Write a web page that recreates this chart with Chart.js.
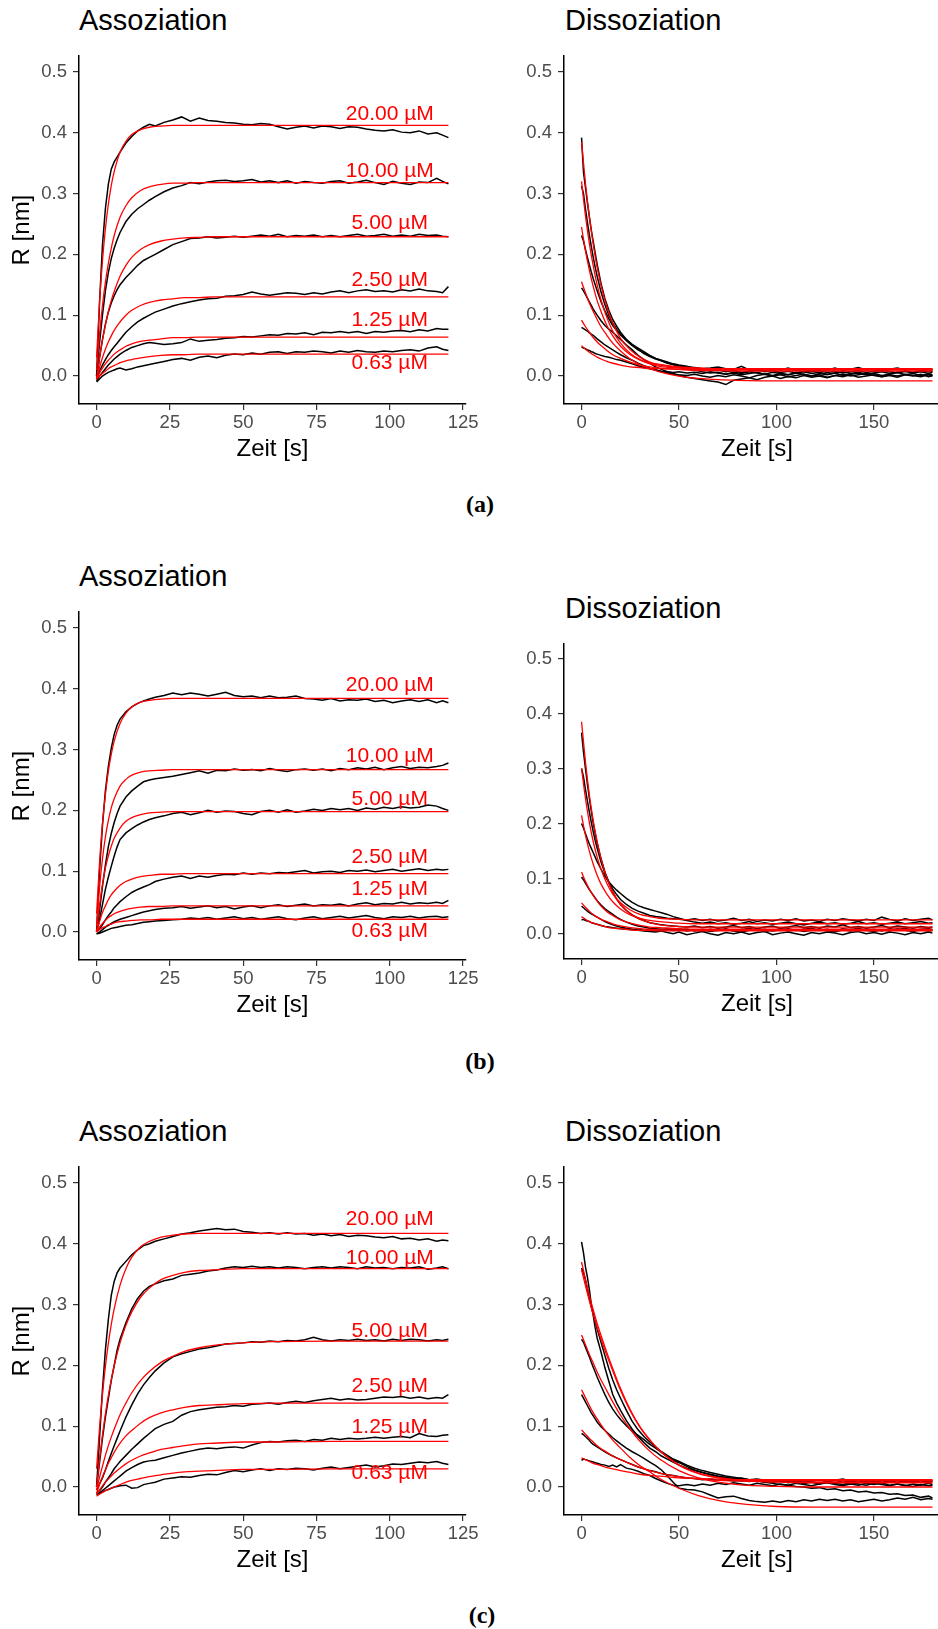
<!DOCTYPE html>
<html>
<head>
<meta charset="utf-8">
<script src="https://cdn.jsdelivr.net/npm/chart.js@4.4.1/dist/chart.umd.min.js"></script>
<style>
html, body { margin: 0; padding: 0; background: #fff; overflow: hidden; }
body { width: 938px; height: 1629px; position: relative; }
canvas { position: absolute; }
.ttl { position: absolute; font-family: "Liberation Sans", Arial, sans-serif; font-size: 29px; line-height: 29px; color: #000; white-space: nowrap; }
.cap { position: absolute; width: 80px; text-align: center; font-family: "Liberation Serif", "Times New Roman", serif; font-weight: bold; font-size: 24px; line-height: 24px; color: #000; }
</style>
</head>
<body>
<div class="ttl" style="left:79px;top:6px">Assoziation</div>
<div class="ttl" style="left:565px;top:6px">Dissoziation</div>
<div class="cap" style="left:440px;top:492px">(a)</div>
<div class="ttl" style="left:79px;top:562px">Assoziation</div>
<div class="ttl" style="left:565px;top:594px">Dissoziation</div>
<div class="cap" style="left:440px;top:1049px">(b)</div>
<div class="ttl" style="left:79px;top:1117px">Assoziation</div>
<div class="ttl" style="left:565px;top:1117px">Dissoziation</div>
<div class="cap" style="left:442px;top:1603px">(c)</div>
<script>
// Zeitachsen (s)
const assocTime = [0,1,2,3,4,5,6,7,8, 10,12,14,16,18,20,
  23,26,29,32,35,38,41,44,47,50,53,56,59,62,65,68,71,74,77,80,83,86,89,92,95,98,101,104,107,110,113,116, 118,120];
const dissTime = [0,1,2,3,4,5,6,7,8, 10,12,14,16,18,20, 23,26,29,32,35,38,41,44,47,50,
  54,58,62,66,70,74,78,82,86,90,94,98,102,106,110,114,118,122,126,130,134,138,142,146,150,154,158,162,166,170,174,178, 180];
const assocFitTime = [0,1,2,3,4,5,6,8,10,12,15,18,22,26,30,35,40,50,60,80,100,120];
const dissFitTime = [0,2,4,6,8,10,13,16,20,25,30,35,40,50,60,70,80,100,120,150,180];

const concLabels = ['20.00 µM', '10.00 µM', '5.00 µM', '2.50 µM', '1.25 µM', '0.63 µM'];
const labelX = 100;
const labelY_a = [0.430, 0.337, 0.251, 0.157, 0.0925, 0.021];
const labelY_b = [0.405, 0.289, 0.219, 0.123, 0.071, 0.001];
const labelY_c = [0.441, 0.377, 0.257, 0.165, 0.098, 0.022];

const yTicks = [0, 0.1, 0.2, 0.3, 0.4, 0.5];
const assocXTicks = [0, 25, 50, 75, 100, 125];
const dissXTicks = [0, 50, 100, 150];

// (a) Messkurven Assoziation: 20, 10, 5, 2.5, 1.25, 0.63 µM
const assocRaw_a = [
  [0.000,0.120,0.215,0.275,0.315,0.340,0.352,0.360,0.368, 0.383,0.394,0.403,0.409,0.414,0.411,
   0.417,0.421,0.426,0.419,0.424,0.420,0.419,0.417, 0.416,0.414,0.413,0.415,0.414,0.410,0.406,0.409,
   0.411,0.408,0.411,0.410,0.407,0.410,0.409,0.406, 0.404,0.403,0.405,0.401,0.400,0.403,0.398,0.400, 0.396,0.392],
  [0.000,0.055,0.100,0.140,0.170,0.193,0.210,0.224,0.236, 0.254,0.266,0.275,0.282,0.289,0.295,
   0.303,0.309,0.313,0.318,0.316,0.319,0.321,0.322, 0.320,0.321,0.323,0.319,0.321,0.318,0.321,0.317,
   0.320,0.318,0.317,0.320,0.321,0.317,0.319,0.322, 0.318,0.315,0.320,0.317,0.315,0.319,0.318,0.325, 0.320,0.316],
  [-0.005,0.030,0.060,0.085,0.105,0.120,0.132,0.142,0.150, 0.162,0.172,0.182,0.190,0.195,0.200,
   0.208,0.216,0.221,0.226,0.227,0.229,0.227,0.228, 0.230,0.228,0.230,0.232,0.230,0.233,0.229,0.231,
   0.230,0.232,0.229,0.231,0.229,0.231,0.233,0.230, 0.231,0.233,0.230,0.232,0.230,0.233,0.231,0.232, 0.230,0.229],
  [-0.005,0.008,0.018,0.027,0.035,0.042,0.048,0.054,0.060, 0.072,0.081,0.089,0.095,0.100,0.105,
   0.110,0.115,0.119,0.122,0.125,0.127,0.128,0.131, 0.132,0.134,0.138,0.135,0.133,0.135,0.137,0.136,
   0.134,0.137,0.135,0.138,0.140,0.137,0.140,0.142, 0.139,0.140,0.138,0.142,0.140,0.143,0.140,0.139, 0.137,0.147],
  [-0.008,0.000,0.006,0.012,0.018,0.023,0.028,0.032,0.036, 0.042,0.047,0.050,0.053,0.055,0.054,
   0.052,0.053,0.055,0.061,0.057,0.059,0.060,0.062, 0.063,0.065,0.064,0.066,0.068,0.067,0.070,0.069,
   0.071,0.068,0.072,0.071,0.073,0.071,0.073,0.070, 0.073,0.072,0.074,0.075,0.073,0.076,0.074,0.078, 0.077,0.077],
  [-0.010,-0.005,0.000,0.003,0.006,0.008,0.010,0.012,0.013, 0.010,0.012,0.015,0.017,0.019,0.021,
   0.024,0.027,0.029,0.026,0.031,0.033,0.030,0.034, 0.036,0.035,0.038,0.036,0.039,0.040,0.037,0.040,
   0.039,0.041,0.040,0.038,0.041,0.039,0.042,0.040, 0.039,0.041,0.040,0.042,0.043,0.041,0.046,0.048, 0.044,0.042]
];
const assocFit_a = [
  [0.030,0.121,0.189,0.242,0.282,0.313,0.336,0.368,0.386,0.397,0.405,0.409,0.411,0.412,0.412,0.412,0.412,0.412,0.412,0.412,0.412,0.412],
  [0.010,0.068,0.116,0.154,0.185,0.210,0.231,0.261,0.280,0.293,0.305,0.311,0.315,0.317,0.317,0.318,0.318,0.318,0.318,0.318,0.318,0.318],
  [-0.005,0.030,0.059,0.084,0.106,0.124,0.139,0.164,0.182,0.195,0.208,0.216,0.222,0.225,0.227,0.228,0.229,0.229,0.229,0.229,0.229,0.229],
  [-0.005,0.014,0.030,0.044,0.056,0.066,0.075,0.089,0.100,0.108,0.116,0.121,0.125,0.127,0.129,0.129,0.130,0.130,0.130,0.130,0.130,0.130],
  [-0.005,0.005,0.013,0.020,0.026,0.031,0.036,0.043,0.049,0.053,0.057,0.059,0.061,0.063,0.063,0.064,0.064,0.064,0.064,0.064,0.064,0.064],
  [-0.005,0.000,0.004,0.008,0.012,0.015,0.017,0.022,0.025,0.027,0.030,0.032,0.034,0.035,0.035,0.036,0.036,0.036,0.036,0.036,0.036,0.036]
];
const dissRaw_a = [
  [0.392,0.335,0.310,0.285,0.262,0.240,0.221,0.202,0.184, 0.152,0.127,0.108,0.093,0.082,0.072,
   0.060,0.051,0.044,0.037,0.032,0.028,0.025,0.021,0.019,0.017,
   0.015,0.014,0.012,0.013,0.015,0.012,0.011,0.016, 0.010,0.012,0.009,0.012,0.010,0.013,0.009,0.011,
   0.008,0.012,0.010,0.013,0.009,0.011,0.014,0.010, 0.012,0.009,0.011,0.013,0.010,0.012,0.009,0.011, 0.010],
  [0.312,0.300,0.275,0.253,0.232,0.213,0.195,0.179,0.164, 0.138,0.117,0.100,0.087,0.077,0.068,
   0.058,0.050,0.043,0.038,0.033,0.029,0.026,0.023,0.020,0.018,
   0.016,0.013,0.011,0.009,0.010,0.007,0.009,0.006, 0.008,0.010,0.007,0.009,0.006,0.008,0.005,0.008,
   0.007,0.009,0.006,0.008,0.005,0.007,0.009,0.006, 0.008,0.010,0.007,0.005,0.008,0.006,0.009,0.007, 0.008],
  [0.231,0.222,0.208,0.195,0.183,0.171,0.160,0.150,0.140, 0.122,0.107,0.094,0.083,0.075,0.068,
   0.060,0.052,0.046,0.040,0.034,0.029,0.025,0.022,0.019,0.016,
   0.012,0.010,0.007,0.005,0.006,0.003,0.005,0.002, 0.004,0.006,0.003,0.001,0.004,0.002,0.005,0.003,
   0.000,0.004,0.002,0.005,0.001,0.003,0.005,0.002, 0.004,0.001,0.003,0.006,0.002,0.004,0.001,0.003, 0.002],
  [0.145,0.140,0.134,0.128,0.122,0.116,0.110,0.105,0.100, 0.091,0.083,0.077,0.072,0.066,0.060,
   0.051,0.043,0.034,0.027,0.021,0.015,0.011,0.007,0.004,0.001,
   -0.002,-0.004,-0.006,-0.008,-0.010,-0.014,-0.007,-0.005, -0.003,-0.006,-0.002,0.000,-0.004,-0.001,-0.003,0.001,
   -0.002,0.000,-0.003,0.001,-0.001,0.002,-0.002,0.000, 0.002,-0.001,0.001,-0.002,0.002,0.000,0.003,-0.001, 0.001],
  [0.080,0.078,0.076,0.074,0.071,0.069,0.067,0.064,0.061, 0.056,0.051,0.047,0.043,0.039,0.035,
   0.030,0.026,0.021,0.017,0.013,0.010,0.007,0.005,0.003,0.002,
   0.001,0.003,0.000,-0.002,0.001,-0.001,0.002,0.000, -0.003,0.001,0.003,0.000,0.002,-0.001,0.001,0.003,
   0.000,0.002,-0.002,0.001,0.003,0.000,0.002,0.004, 0.001,-0.001,0.002,0.000,0.003,0.001,-0.001,0.002, 0.000],
  [0.048,0.046,0.045,0.043,0.042,0.040,0.039,0.037,0.036, 0.034,0.032,0.031,0.029,0.027,0.026,
   0.023,0.020,0.017,0.014,0.012,0.010,0.008,0.007,0.006,0.007,
   0.005,0.006,0.004,0.007,0.005,0.003,0.006,0.004, 0.007,0.005,0.003,0.006,0.004,0.002,0.005,0.007,
   0.004,0.006,0.003,0.005,0.007,0.004,0.006,0.003, 0.005,0.007,0.004,0.006,0.008,0.005,0.007,0.004, 0.006]
];
const dissFit_a = [
  [0.385,0.317,0.262,0.217,0.179,0.149,0.114,0.087,0.062,0.043,0.031,0.023,0.019,0.015,0.013,0.012,0.012,0.012,0.012,0.012,0.012],
  [0.320,0.264,0.218,0.181,0.150,0.125,0.096,0.074,0.054,0.037,0.027,0.021,0.018,0.014,0.013,0.012,0.012,0.012,0.012,0.012,0.012],
  [0.245,0.206,0.174,0.147,0.124,0.106,0.083,0.066,0.049,0.035,0.026,0.020,0.016,0.013,0.011,0.010,0.010,0.010,0.010,0.010,0.010],
  [0.155,0.137,0.120,0.106,0.093,0.081,0.067,0.054,0.041,0.028,0.019,0.012,0.007,0.000,-0.004,-0.006,-0.007,-0.008,-0.008,-0.008,-0.008],
  [0.092,0.081,0.072,0.063,0.056,0.050,0.042,0.035,0.029,0.023,0.018,0.015,0.013,0.011,0.009,0.009,0.008,0.008,0.008,0.008,0.008],
  [0.050,0.044,0.039,0.035,0.031,0.028,0.024,0.021,0.018,0.015,0.014,0.012,0.012,0.011,0.010,0.010,0.010,0.010,0.010,0.010,0.010]
];

// (b)
const assocRaw_b = [
  [0.000,0.100,0.175,0.232,0.272,0.302,0.325,0.340,0.350, 0.362,0.370,0.376,0.380,0.383,0.386,
   0.389,0.393,0.390,0.393,0.391,0.388,0.391,0.394, 0.389,0.387,0.388,0.385,0.388,0.385,0.386,0.388,
   0.384,0.383,0.381,0.384,0.380,0.382,0.381,0.383, 0.379,0.381,0.377,0.380,0.382,0.379,0.382,0.377, 0.380,0.377],
  [0.000,0.035,0.075,0.110,0.140,0.162,0.180,0.195,0.207, 0.222,0.232,0.240,0.247,0.250,0.252,
   0.254,0.256,0.259,0.262,0.265,0.261,0.266,0.265, 0.268,0.266,0.267,0.265,0.269,0.266,0.264,0.267,
   0.268,0.266,0.268,0.265,0.269,0.267,0.270,0.268, 0.271,0.267,0.270,0.272,0.269,0.271,0.270,0.272, 0.274,0.278],
  [0.000,0.020,0.045,0.070,0.090,0.108,0.125,0.140,0.152, 0.163,0.170,0.176,0.181,0.185,0.188,
   0.191,0.195,0.197,0.193,0.196,0.200,0.197,0.199, 0.198,0.195,0.193,0.198,0.200,0.197,0.201,0.197,
   0.199,0.202,0.200,0.203,0.201,0.203,0.200,0.204, 0.202,0.205,0.203,0.206,0.204,0.205,0.209,0.207, 0.203,0.200],
  [0.000,0.005,0.012,0.020,0.027,0.033,0.040,0.045,0.050, 0.058,0.065,0.070,0.074,0.078,0.083,
   0.087,0.090,0.092,0.088,0.092,0.090,0.093,0.095, 0.094,0.097,0.095,0.097,0.096,0.098,0.097,0.099,
   0.101,0.097,0.099,0.100,0.098,0.101,0.100,0.102, 0.099,0.101,0.103,0.100,0.102,0.104,0.101,0.103, 0.102,0.103],
  [-0.003,0.000,0.004,0.008,0.011,0.014,0.017,0.019,0.021, 0.024,0.027,0.030,0.033,0.035,0.037,
   0.039,0.040,0.042,0.039,0.041,0.043,0.040,0.042, 0.038,0.041,0.043,0.040,0.043,0.045,0.042,0.044,
   0.046,0.043,0.045,0.044,0.046,0.043,0.046,0.048, 0.045,0.047,0.046,0.049,0.046,0.048,0.047,0.049, 0.047,0.052],
  [-0.003,-0.002,0.000,0.002,0.004,0.006,0.007,0.008,0.009, 0.011,0.012,0.014,0.016,0.017,0.018,
   0.019,0.020,0.021,0.023,0.022,0.024,0.021,0.023, 0.025,0.022,0.024,0.021,0.023,0.025,0.022,0.020,
   0.023,0.025,0.022,0.024,0.026,0.023,0.025,0.027, 0.024,0.022,0.025,0.024,0.026,0.023,0.025,0.026, 0.024,0.025]
];
const assocFit_b = [
  [0.030,0.114,0.178,0.226,0.264,0.292,0.314,0.343,0.360,0.370,0.378,0.381,0.383,0.384,0.384,0.384,0.384,0.384,0.384,0.384,0.384,0.384],
  [0.010,0.073,0.120,0.156,0.183,0.204,0.219,0.240,0.251,0.258,0.263,0.265,0.266,0.267,0.267,0.267,0.267,0.267,0.267,0.267,0.267,0.267],
  [0.000,0.044,0.078,0.105,0.125,0.141,0.154,0.171,0.182,0.188,0.193,0.196,0.197,0.198,0.198,0.198,0.198,0.198,0.198,0.198,0.198,0.198],
  [0.000,0.017,0.032,0.043,0.053,0.061,0.067,0.077,0.083,0.087,0.091,0.093,0.095,0.095,0.096,0.096,0.096,0.096,0.096,0.096,0.096,0.096],
  [0.000,0.008,0.014,0.019,0.024,0.027,0.030,0.034,0.037,0.039,0.041,0.042,0.042,0.043,0.043,0.043,0.043,0.043,0.043,0.043,0.043,0.043],
  [0.000,0.004,0.007,0.009,0.012,0.013,0.015,0.017,0.018,0.019,0.020,0.020,0.021,0.021,0.021,0.021,0.021,0.021,0.021,0.021,0.021,0.021]
];
const dissRaw_b = [
  [0.365,0.330,0.300,0.272,0.246,0.222,0.201,0.182,0.165, 0.136,0.112,0.092,0.076,0.063,0.053,
   0.042,0.034,0.028,0.024,0.020,0.018,0.016,0.015,0.014,0.013,
   0.012,0.014,0.011,0.013,0.010,0.012,0.015,0.011, 0.013,0.009,0.012,0.014,0.010,0.012,0.015,0.011,
   0.013,0.010,0.014,0.012,0.016,0.011,0.013,0.010, 0.012,0.015,0.011,0.014,0.012,0.010,0.013,0.011, 0.012],
  [0.300,0.285,0.262,0.241,0.221,0.202,0.185,0.169,0.155, 0.130,0.110,0.094,0.081,0.071,0.062,
   0.053,0.046,0.041,0.037,0.033,0.031,0.030,0.028,0.027,0.026,
   0.025,0.027,0.024,0.026,0.023,0.025,0.028,0.024, 0.026,0.022,0.025,0.023,0.026,0.024,0.027,0.023,
   0.025,0.022,0.026,0.024,0.027,0.025,0.023,0.026, 0.024,0.030,0.026,0.023,0.027,0.024,0.026,0.028, 0.025],
  [0.200,0.192,0.182,0.172,0.163,0.155,0.147,0.139,0.131, 0.117,0.104,0.094,0.086,0.079,0.073,
   0.064,0.057,0.051,0.047,0.044,0.041,0.038,0.035,0.031,0.028,
   0.024,0.021,0.019,0.021,0.018,0.020,0.017,0.019, 0.022,0.018,0.020,0.017,0.019,0.021,0.018,0.016,
   0.019,0.021,0.018,0.020,0.017,0.019,0.022,0.018, 0.020,0.017,0.019,0.021,0.018,0.020,0.022,0.019, 0.020],
  [0.103,0.098,0.092,0.086,0.080,0.075,0.070,0.065,0.060, 0.052,0.045,0.040,0.035,0.030,0.026,
   0.021,0.017,0.014,0.012,0.010,0.009,0.008,0.007,0.009,0.006,
   0.008,0.005,0.007,0.004,0.006,0.008,0.005,0.003, 0.006,0.008,0.004,0.006,0.009,0.005,0.007,0.004,
   0.006,0.008,0.005,0.003,0.007,0.005,0.008,0.006, 0.004,0.007,0.005,0.009,0.006,0.004,0.007,0.005, 0.006],
  [0.050,0.047,0.044,0.041,0.038,0.036,0.034,0.032,0.030, 0.026,0.022,0.019,0.016,0.014,0.012,
   0.010,0.008,0.006,0.005,0.004,0.003,0.005,0.002,0.000,0.003,
   -0.002,0.001,0.004,0.000,-0.003,0.002,0.000,0.003, -0.001,0.002,0.004,-0.002,0.001,0.003,0.000,-0.003,
   0.002,0.000,0.003,0.001,-0.002,0.002,0.004,0.000, 0.002,-0.001,0.003,0.001,-0.002,0.002,0.000,0.003, 0.001],
  [0.025,0.026,0.024,0.023,0.022,0.020,0.019,0.018,0.017, 0.015,0.013,0.012,0.011,0.010,0.009,
   0.008,0.007,0.009,0.006,0.008,0.005,0.007,0.009,0.006,0.008,
   0.005,0.007,0.004,0.008,0.006,0.009,0.005,0.007, 0.010,0.006,0.008,0.005,0.007,0.009,0.006,0.008,
   0.010,0.006,0.008,0.005,0.009,0.007,0.010,0.006, 0.008,0.005,0.009,0.007,0.010,0.006,0.008,0.009, 0.007]
];
const dissFit_b = [
  [0.385,0.312,0.252,0.205,0.167,0.136,0.101,0.076,0.053,0.036,0.026,0.020,0.016,0.013,0.012,0.012,0.012,0.012,0.012,0.012,0.012],
  [0.300,0.246,0.202,0.167,0.139,0.117,0.091,0.072,0.056,0.043,0.035,0.031,0.028,0.026,0.025,0.025,0.025,0.025,0.025,0.025,0.025],
  [0.215,0.179,0.150,0.126,0.106,0.090,0.072,0.058,0.045,0.034,0.028,0.024,0.022,0.019,0.018,0.018,0.018,0.018,0.018,0.018,0.018],
  [0.112,0.095,0.081,0.069,0.059,0.050,0.040,0.033,0.025,0.019,0.015,0.012,0.011,0.009,0.008,0.008,0.008,0.008,0.008,0.008,0.008],
  [0.056,0.048,0.041,0.035,0.030,0.026,0.022,0.018,0.014,0.011,0.009,0.008,0.007,0.007,0.006,0.006,0.006,0.006,0.006,0.006,0.006],
  [0.031,0.026,0.022,0.019,0.017,0.015,0.012,0.010,0.009,0.007,0.006,0.006,0.005,0.005,0.005,0.005,0.005,0.005,0.005,0.005,0.005]
];

// (c)
const assocRaw_c = [
  [0.000,0.080,0.160,0.225,0.275,0.315,0.338,0.352,0.360, 0.371,0.382,0.390,0.397,0.400,0.404,
   0.408,0.412,0.416,0.418,0.421,0.423,0.425,0.423, 0.424,0.420,0.419,0.417,0.418,0.416,0.418,0.416,
   0.417,0.414,0.416,0.413,0.415,0.412,0.414,0.413, 0.411,0.410,0.412,0.408,0.409,0.406,0.408,0.404, 0.406,0.405],
  [0.000,0.040,0.080,0.115,0.145,0.175,0.200,0.225,0.243, 0.270,0.293,0.310,0.322,0.330,0.334,
   0.339,0.342,0.348,0.350,0.352,0.355,0.357,0.360, 0.362,0.361,0.363,0.361,0.362,0.360,0.362,0.361,
   0.359,0.361,0.362,0.360,0.362,0.361,0.359,0.362, 0.360,0.361,0.359,0.361,0.360,0.362,0.358,0.360, 0.362,0.359],
  [-0.005,0.005,0.015,0.028,0.042,0.055,0.068,0.080,0.092, 0.115,0.135,0.153,0.168,0.180,0.191,
   0.204,0.214,0.219,0.223,0.227,0.229,0.232,0.235, 0.236,0.237,0.239,0.238,0.240,0.239,0.241,0.240,
   0.242,0.246,0.242,0.240,0.242,0.241,0.243,0.241, 0.242,0.240,0.243,0.241,0.243,0.242,0.240,0.242, 0.241,0.243],
  [-0.010,-0.006,0.000,0.008,0.015,0.022,0.030,0.036,0.042, 0.052,0.062,0.071,0.080,0.088,0.096,
   0.103,0.108,0.118,0.124,0.127,0.129,0.131,0.132, 0.134,0.133,0.136,0.137,0.138,0.136,0.139,0.141,
   0.139,0.142,0.144,0.146,0.143,0.145,0.143,0.144, 0.146,0.148,0.147,0.149,0.146,0.148,0.145,0.147, 0.146,0.152],
  [-0.012,-0.010,-0.006,-0.002,0.002,0.006,0.010,0.014,0.018, 0.026,0.032,0.037,0.041,0.043,0.044,
   0.048,0.052,0.056,0.059,0.062,0.064,0.063,0.065, 0.066,0.064,0.069,0.073,0.075,0.074,0.076,0.077,
   0.075,0.078,0.077,0.080,0.078,0.080,0.079,0.080, 0.082,0.080,0.082,0.083,0.081,0.088,0.084,0.083, 0.085,0.086],
  [-0.012,-0.010,-0.008,-0.006,-0.004,-0.002,0.000,0.001,0.002, 0.003,-0.002,-0.001,0.004,0.006,0.008,
   0.013,0.015,0.017,0.016,0.019,0.021,0.020,0.024, 0.027,0.025,0.028,0.030,0.027,0.030,0.029,0.031,
   0.030,0.028,0.031,0.033,0.030,0.032,0.034,0.036, 0.033,0.035,0.038,0.037,0.039,0.041,0.040,0.042, 0.039,0.037]
];
const assocFit_c = [
  [0.030,0.097,0.152,0.198,0.236,0.267,0.293,0.332,0.359,0.378,0.395,0.404,0.411,0.414,0.416,0.417,0.417,0.417,0.417,0.417,0.417,0.417],
  [0.000,0.045,0.085,0.120,0.150,0.176,0.199,0.237,0.266,0.288,0.312,0.327,0.341,0.348,0.353,0.356,0.357,0.359,0.359,0.359,0.359,0.359],
  [-0.005,0.016,0.034,0.052,0.068,0.082,0.095,0.119,0.138,0.155,0.175,0.190,0.205,0.215,0.223,0.229,0.233,0.237,0.239,0.240,0.240,0.240],
  [-0.010,0.004,0.017,0.028,0.039,0.048,0.057,0.072,0.084,0.093,0.105,0.114,0.122,0.127,0.131,0.134,0.135,0.137,0.138,0.138,0.138,0.138],
  [-0.012,-0.005,0.002,0.008,0.013,0.018,0.023,0.031,0.038,0.044,0.051,0.056,0.062,0.065,0.068,0.071,0.072,0.074,0.074,0.075,0.075,0.075],
  [-0.015,-0.012,-0.009,-0.006,-0.004,-0.002,0.000,0.004,0.008,0.011,0.014,0.017,0.020,0.023,0.025,0.026,0.027,0.029,0.029,0.030,0.030,0.030]
];
const dissRaw_c = [
  [0.403,0.385,0.362,0.345,0.325,0.300,0.282,0.262,0.245, 0.222,0.196,0.174,0.152,0.138,0.126,
   0.109,0.095,0.083,0.073,0.064,0.058,0.051,0.046,0.041,0.036,
   0.031,0.027,0.024,0.021,0.018,0.016,0.014,0.015, 0.012,0.013,0.011,0.012,0.010,0.012,0.009,0.011,
   0.010,0.012,0.009,0.011,0.013,0.010,0.008,0.011, 0.009,0.012,0.010,0.008,0.011,0.009,0.012,0.010, 0.011],
  [0.360,0.352,0.340,0.325,0.311,0.297,0.285,0.272,0.260, 0.238,0.216,0.195,0.176,0.160,0.146,
   0.126,0.108,0.094,0.083,0.074,0.066,0.058,0.052,0.046,0.042,
   0.036,0.031,0.027,0.024,0.021,0.018,0.016,0.014, 0.012,0.010,0.008,0.006,0.004,0.003,0.001,0.000,
   -0.002,-0.001,-0.004,-0.003,-0.006,-0.005,-0.008,-0.007, -0.010,-0.009,-0.012,-0.011,-0.014,-0.013,-0.017,-0.015, -0.018],
  [0.243,0.238,0.230,0.222,0.214,0.205,0.197,0.189,0.181, 0.166,0.152,0.139,0.128,0.119,0.111,
   0.101,0.092,0.085,0.078,0.070,0.064,0.057,0.050,0.044,0.040,
   0.034,0.028,0.024,0.020,0.017,0.015,0.012,0.010, 0.012,0.009,0.011,0.008,0.010,0.007,0.009,0.006,
   0.008,0.005,0.008,0.006,0.004,0.007,0.005,0.003, 0.006,0.004,0.002,0.005,0.003,0.001,0.004,0.002, 0.003],
  [0.152,0.146,0.140,0.134,0.128,0.122,0.117,0.112,0.107, 0.099,0.093,0.087,0.081,0.076,0.071,
   0.064,0.058,0.053,0.047,0.041,0.035,0.028,0.018,0.008,-0.002,
   -0.004,-0.005,-0.008,-0.013,-0.018,-0.016,-0.015,-0.019, -0.022,-0.024,-0.025,-0.023,-0.025,-0.022,-0.024,-0.021,
   -0.023,-0.020,-0.022,-0.020,-0.023,-0.021,-0.024,-0.022, -0.020,-0.023,-0.021,-0.018,-0.020,-0.017,-0.021,-0.019, -0.020],
  [0.088,0.086,0.083,0.080,0.077,0.073,0.070,0.068,0.066, 0.062,0.058,0.054,0.051,0.048,0.045,
   0.041,0.037,0.033,0.030,0.027,0.025,0.022,0.020,0.019,0.017,
   0.015,0.014,0.012,0.013,0.011,0.012,0.010,0.011, 0.009,0.011,0.008,0.010,0.012,0.009,0.011,0.008,
   0.010,0.012,0.009,0.011,0.008,0.010,0.012,0.009, 0.011,0.008,0.010,0.012,0.009,0.011,0.008,0.010, 0.009],
  [0.044,0.046,0.045,0.044,0.043,0.042,0.041,0.040,0.039, 0.037,0.036,0.034,0.036,0.033,0.037,
   0.031,0.029,0.026,0.022,0.019,0.014,0.010,0.006,0.003,0.002,
   0.004,0.002,0.005,0.003,0.006,0.004,0.007,0.005, 0.003,0.006,0.004,0.002,0.005,0.003,0.006,0.004,
   0.002,0.005,0.007,0.004,0.002,0.005,0.003,0.006, 0.004,0.007,0.003,0.005,0.002,0.005,0.003,0.006, 0.004]
];
const dissFit_c = [
  [0.370,0.342,0.315,0.291,0.269,0.249,0.221,0.195,0.162,0.127,0.099,0.078,0.060,0.036,0.022,0.015,0.011,0.008,0.007,0.007,0.007],
  [0.357,0.331,0.306,0.283,0.262,0.243,0.216,0.191,0.159,0.125,0.098,0.077,0.060,0.036,0.023,0.016,0.012,0.010,0.010,0.010,0.010],
  [0.250,0.234,0.218,0.204,0.189,0.176,0.158,0.140,0.118,0.095,0.075,0.059,0.046,0.027,0.015,0.008,0.004,0.001,0.000,0.000,0.000],
  [0.160,0.147,0.134,0.122,0.112,0.102,0.089,0.077,0.064,0.048,0.035,0.025,0.014,-0.002,-0.014,-0.022,-0.027,-0.032,-0.033,-0.033,-0.033],
  [0.094,0.087,0.080,0.074,0.068,0.063,0.057,0.051,0.045,0.038,0.032,0.027,0.023,0.017,0.013,0.011,0.010,0.010,0.010,0.010,0.010],
  [0.048,0.045,0.042,0.039,0.037,0.035,0.032,0.030,0.027,0.024,0.021,0.019,0.018,0.015,0.014,0.013,0.012,0.012,0.012,0.012,0.012]
];

const fontFam = '"Liberation Sans", Arial, sans-serif';

// rote Konzentrationsbeschriftungen in den Assoziationsplots
const concLabelPlugin = {
  id: 'concLabels',
  afterDatasetsDraw(chart, args, opts) {
    if (!opts.ys) return;
    const ctx = chart.ctx;
    const xs = chart.scales.x, ys = chart.scales.y;
    ctx.save();
    ctx.fillStyle = '#ff0000';
    ctx.font = '21px ' + fontFam;
    ctx.textAlign = 'center';
    ctx.textBaseline = 'middle';
    opts.ys.forEach((v, i) => {
      ctx.fillText(concLabels[i], xs.getPixelForValue(labelX), ys.getPixelForValue(v));
    });
    ctx.restore();
  }
};

function panel(p) {
  const padTop = 10, xAxisH = 60;
  const cv = document.createElement('canvas');
  cv.width = p.areaRight - p.left + p.padRight;
  cv.height = padTop + (p.areaBottom - p.areaTop) + xAxisH;
  cv.style.left = p.left + 'px';
  cv.style.top = (p.areaTop - padTop) + 'px';
  document.body.appendChild(cv);
  const yAxisW = p.areaLeft - p.left;

  const datasets = [];
  p.raw.forEach(ys => datasets.push({
    data: ys.map((y, i) => ({x: p.rawT[i], y: y})),
    borderColor: '#000000', borderWidth: 1.5, pointRadius: 0, tension: 0, order: 1
  }));
  p.fits.forEach(ys => datasets.push({
    data: ys.map((y, i) => ({x: p.fitT[i], y: y})),
    borderColor: '#ff0000', borderWidth: 1.3, pointRadius: 0, cubicInterpolationMode: 'monotone', order: 0
  }));

  new Chart(cv.getContext('2d'), {
    type: 'line',
    data: {datasets: datasets},
    plugins: [concLabelPlugin],
    options: {
      responsive: false,
      animation: false,
      devicePixelRatio: 1,
      layout: {padding: {top: padTop, right: p.padRight, bottom: 0, left: 0}, autoPadding: false},
      plugins: {
        legend: {display: false},
        tooltip: {enabled: false},
        concLabels: {ys: p.labels}
      },
      scales: {
        x: {
          type: 'linear', min: p.xMin, max: p.xMax,
          afterFit: s => { s.height = xAxisH; },
          afterBuildTicks: s => { s.ticks = p.xTicks.map(v => ({value: v})); },
          ticks: {color: '#4d4d4d', font: {family: fontFam, size: 18.5}, padding: 2, maxRotation: 0, autoSkip: false},
          grid: {drawOnChartArea: false, drawTicks: true, tickLength: 6, color: '#333333', lineWidth: 1.2},
          border: {display: true, color: '#000000', width: 1.5},
          title: {display: true, text: 'Zeit [s]', color: '#000000', font: {family: fontFam, size: 24}, padding: {top: 0, bottom: 0}}
        },
        y: {
          type: 'linear', min: -0.046, max: 0.526,
          afterFit: s => { s.width = yAxisW; },
          afterBuildTicks: s => { s.ticks = yTicks.map(v => ({value: v})); },
          ticks: {color: '#4d4d4d', font: {family: fontFam, size: 18.5}, padding: 6, callback: v => v.toFixed(1)},
          grid: {drawOnChartArea: false, drawTicks: true, tickLength: 6, color: '#333333', lineWidth: 1.2},
          border: {display: true, color: '#000000', width: 1.5},
          title: {display: p.yTitle, text: 'R [nm]', color: '#000000', font: {family: fontFam, size: 24}, padding: {top: 8, bottom: 0}}
        }
      }
    }
  });
}

const assocBase = {left: 0, areaLeft: 79, areaRight: 466, padRight: 24, xMin: -6, xMax: 126,
  xTicks: assocXTicks, rawT: assocTime, fitT: assocFitTime, yTitle: true};
const dissBase = {left: 470, areaLeft: 564, areaRight: 950, padRight: 0, xMin: -9, xMax: 189,
  xTicks: dissXTicks, rawT: dissTime, fitT: dissFitTime, yTitle: false, labels: null};

panel(Object.assign({}, assocBase, {areaTop: 49, areaBottom: 404, raw: assocRaw_a, fits: assocFit_a, labels: labelY_a}));
panel(Object.assign({}, dissBase, {areaTop: 49, areaBottom: 404, raw: dissRaw_a, fits: dissFit_a}));
panel(Object.assign({}, assocBase, {areaTop: 605, areaBottom: 960, raw: assocRaw_b, fits: assocFit_b, labels: labelY_b}));
panel(Object.assign({}, dissBase, {areaTop: 637, areaBottom: 959, raw: dissRaw_b, fits: dissFit_b}));
panel(Object.assign({}, assocBase, {areaTop: 1160, areaBottom: 1515, raw: assocRaw_c, fits: assocFit_c, labels: labelY_c}));
panel(Object.assign({}, dissBase, {areaTop: 1160, areaBottom: 1515, raw: dissRaw_c, fits: dissFit_c}));
</script>
</body>
</html>
